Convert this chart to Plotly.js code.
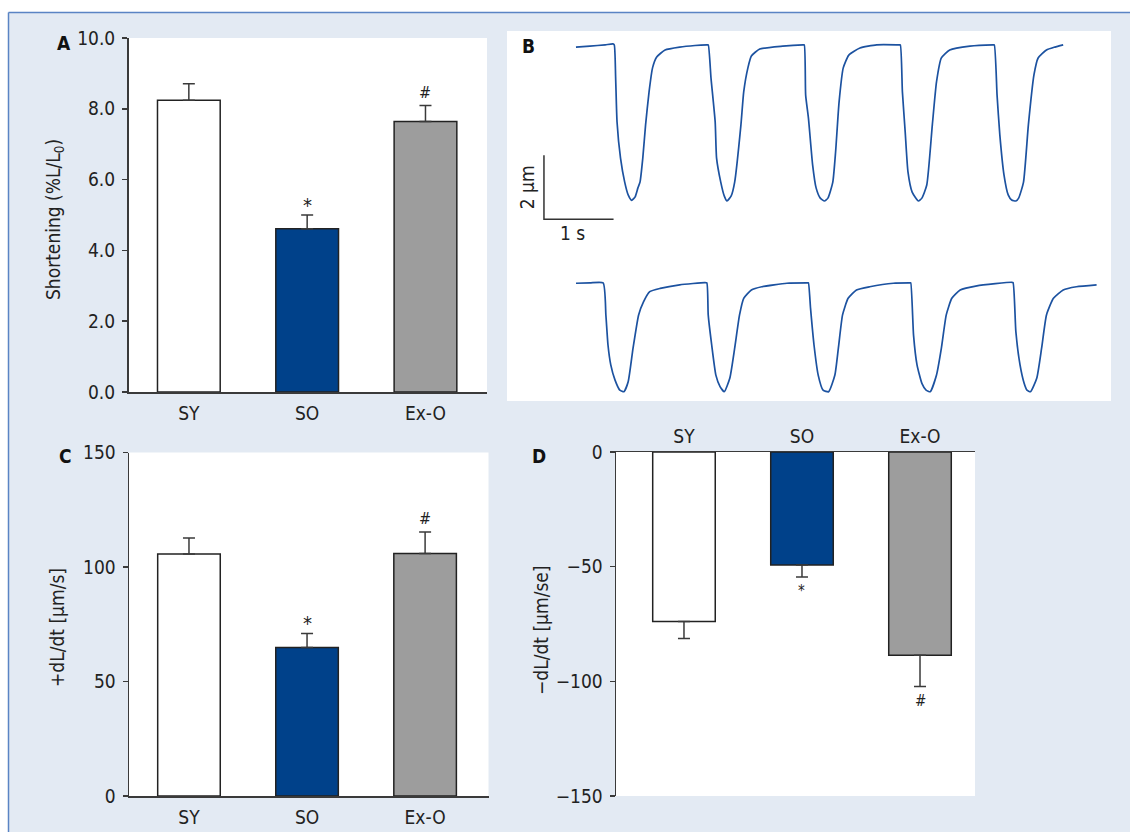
<!DOCTYPE html>
<html>
<head>
<meta charset="utf-8">
<script src="https://cdn.plot.ly/plotly-3.0.1.min.js"></script>
<style>html,body{margin:0;padding:0;background:#fff;}#chart{width:1130px;height:832px;}</style>
</head>
<body>
<div id="chart"></div>
<script>
// ---------------- data ----------------
const categories = ['SY', 'SO', 'Ex-O'];
const shortening = [8.24, 4.61, 7.64];          // %L/L0
const shorteningErr = [0.47, 0.39, 0.45];
const shorteningSig = ['', '*', '#'];
const plusDLdt = [105.7, 64.8, 105.9];          // µm/s
const plusDLdtErr = [7.0, 6.2, 9.4];
const plusDLdtSig = ['', '*', '#'];
const minusDLdt = [-73.9, -49.3, -88.6];        // µm/s
const minusDLdtErr = [7.4, 5.2, 13.7];
const minusDLdtSig = ['', '*', '#'];

// Panel B: sarcomere length traces (time in s, length in µm)
const topTraceT = [0.00,0.20,0.42,0.53,0.55,0.57,0.59,0.64,0.70,0.75,0.80,0.85,0.89,0.92,0.96,1.00,1.05,1.10,1.16,1.28,1.49,1.71,1.88,
  1.90,1.94,2.00,2.02,2.08,2.13,2.17,2.23,2.28,2.37,2.41,2.47,2.52,2.64,2.97,3.26,
  3.28,3.30,3.34,3.40,3.45,3.51,3.57,3.62,3.69,3.73,3.78,3.84,3.92,4.08,4.32,4.64,
  4.66,4.69,4.73,4.77,4.83,4.92,4.97,5.04,5.12,5.18,5.25,5.37,5.66,5.99,
  6.01,6.05,6.09,6.15,6.21,6.26,6.32,6.36,6.43,6.50,6.58,6.64,6.76,6.88,7.00];
const topTraceL = [11.06,11.09,11.13,11.16,11.13,10.09,8.72,7.59,6.84,6.44,6.27,6.38,6.66,6.84,7.59,8.63,9.66,10.41,10.75,10.97,11.06,11.11,11.13,
  11.13,10.09,8.72,7.59,6.84,6.41,6.25,6.41,6.84,8.63,9.66,10.41,10.78,11.00,11.09,11.13,
  11.13,9.56,8.84,7.38,6.66,6.34,6.25,6.34,6.84,7.78,9.34,10.41,10.81,11.03,11.13,11.13,
  11.13,9.66,8.41,7.16,6.53,6.25,6.34,6.75,8.63,9.97,10.72,10.97,11.09,11.13,
  11.13,9.56,8.31,7.06,6.44,6.28,6.25,6.34,6.84,8.63,10.19,10.72,10.97,11.06,11.13];
const bottomTraceT = [0.00,0.20,0.39,0.43,0.46,0.50,0.56,0.63,0.69,0.75,0.82,0.90,0.97,1.06,1.21,1.49,1.85,
  1.88,1.90,1.95,2.01,2.07,2.13,2.21,2.28,2.35,2.41,2.52,2.67,3.03,3.33,
  3.34,3.37,3.42,3.48,3.55,3.63,3.72,3.77,3.83,3.91,4.03,4.22,4.56,4.80,
  4.81,4.85,4.90,4.97,5.03,5.09,5.18,5.25,5.32,5.40,5.52,5.76,6.26,
  6.28,6.32,6.38,6.44,6.48,6.53,6.62,6.69,6.76,6.86,7.00,7.19,7.48];
const bottomTraceL = [3.68,3.69,3.69,2.68,1.75,1.13,0.66,0.34,0.29,0.60,1.65,2.69,3.10,3.42,3.52,3.63,3.70,
  3.69,2.69,1.75,0.81,0.45,0.29,0.71,1.65,2.69,3.21,3.47,3.57,3.68,3.69,
  3.69,2.90,1.75,0.81,0.34,0.29,0.81,1.65,2.69,3.21,3.47,3.57,3.68,3.69,
  3.69,2.06,1.13,0.55,0.34,0.29,0.81,1.65,2.69,3.21,3.47,3.60,3.71,
  3.70,2.17,1.13,0.55,0.34,0.29,0.71,1.65,2.69,3.21,3.47,3.57,3.63];
const scaleBarT = [-0.46, -0.46, 0.54];   // 1 s horizontal bar
const scaleBarL = [7.68, 5.68, 5.68];     // 2 µm vertical bar
const scaleLabels = ['2 µm', '1 s'];

// ---------------- styles ----------------
const barColors = ['#ffffff', '#00418a', '#9d9d9d'];
const FONT = "'Liberation Sans Narrow', 'DejaVu Sans Condensed', 'Arial Narrow', sans-serif";
const INK = '#222222';
const AX = '#3a3a3a';
const TRACE = '#1c52a0';
const W = 1130, H = 832;
const px = v => v / W;
const py = v => 1 - v / H;

function barTrace(vals, errs, xa, ya, down) {
  return {
    type: 'bar', x: categories, y: vals, xaxis: xa, yaxis: ya,
    width: 0.53,
    marker: {color: barColors, line: {color: INK, width: 1.5}},
    error_y: {
      type: 'data', symmetric: false,
      array: down ? errs.map(() => 0) : errs,
      arrayminus: down ? errs : errs.map(() => 0),
      color: AX, thickness: 1.5, width: 6
    },
    hoverinfo: 'skip', showlegend: false
  };
}

const traceLine = {color: TRACE, width: 1.7, shape: 'spline', smoothing: 0.5};
const traces = [
  barTrace(shortening, shorteningErr, 'x', 'y', false),
  barTrace(plusDLdt, plusDLdtErr, 'x3', 'y3', false),
  barTrace(minusDLdt, minusDLdtErr, 'x4', 'y4', true),
  {type: 'scatter', mode: 'lines', x: topTraceT, y: topTraceL, xaxis: 'x2', yaxis: 'y2',
   line: traceLine, hoverinfo: 'skip', showlegend: false},
  {type: 'scatter', mode: 'lines', x: bottomTraceT, y: bottomTraceL, xaxis: 'x2', yaxis: 'y2',
   line: traceLine, hoverinfo: 'skip', showlegend: false},
  {type: 'scatter', mode: 'lines', x: scaleBarT, y: scaleBarL, xaxis: 'x2', yaxis: 'y2',
   line: {color: '#333333', width: 1.5}, hoverinfo: 'skip', showlegend: false}
];

const yCommon = {
  showline: true, linecolor: AX, linewidth: 1.5,
  ticks: 'outside', ticklen: 5, tickwidth: 1.5, tickcolor: AX,
  showgrid: false, zeroline: false, fixedrange: true,
  tickfont: {family: FONT, size: 19, color: INK}, ticklabelstandoff: 3
};
const xCommon = {
  type: 'category', showline: true, linecolor: AX, linewidth: 1.5,
  ticks: '', showgrid: false, zeroline: false, fixedrange: true,
  tickfont: {family: FONT, size: 19, color: INK}
};

const annotations = [];
function sigAnn(sig, vals, errs, xa, ya, down) {
  sig.forEach((s, i) => {
    if (!s) return;
    const star = s === '*';
    annotations.push({
      x: categories[i], y: down ? vals[i] - errs[i] : vals[i] + errs[i],
      xref: xa, yref: ya, text: s, showarrow: false,
      yanchor: down ? 'top' : 'bottom',
      yshift: down ? -3 : (star ? -4 : 2),
      font: {family: FONT, size: down ? 15 : (star ? 20 : 16), color: INK}
    });
  });
}
sigAnn(shorteningSig, shortening, shorteningErr, 'x', 'y', false);
sigAnn(plusDLdtSig, plusDLdt, plusDLdtErr, 'x3', 'y3', false);
sigAnn(minusDLdtSig, minusDLdt, minusDLdtErr, 'x4', 'y4', true);

const panelFont = {family: FONT, size: 19, color: '#111', weight: 'bold'};
[['A', 64, 43], ['B', 528, 46], ['C', 65, 456], ['D', 539, 456]].forEach(p => {
  annotations.push({x: px(p[1]), y: py(p[2]), xref: 'paper', yref: 'paper', text: '<b>' + p[0] + '</b>',
    showarrow: false, xanchor: 'center', yanchor: 'middle', font: panelFont});
});
const titleFont = {family: FONT, size: 19, color: INK};
[['Shortening (%L/L<sub>0</sub>)', 55, 220], ['+dL/dt [µm/s]', 57, 628], ['\u2212dL/dt [µm/se]', 541, 630]].forEach(t => {
  annotations.push({x: px(t[1]), y: py(t[2]), xref: 'paper', yref: 'paper', text: t[0], textangle: -90,
    showarrow: false, xanchor: 'center', yanchor: 'middle', font: titleFont});
});
// scale bar labels
annotations.push({x: scaleBarT[0], y: (scaleBarL[0] + scaleBarL[1]) / 2, xref: 'x2', yref: 'y2',
  text: scaleLabels[0], textangle: -90, showarrow: false, xanchor: 'center', yanchor: 'middle', xshift: -17,
  font: titleFont});
annotations.push({x: (scaleBarT[1] + scaleBarT[2]) / 2, y: scaleBarL[2], xref: 'x2', yref: 'y2',
  text: scaleLabels[1], showarrow: false, xanchor: 'center', yanchor: 'top', xshift: -6, yshift: -1,
  font: titleFont});

const plotRects = [[128.5, 38, 487, 392], [507, 31, 1111, 401], [129, 452.5, 488.5, 796], [616, 452, 975, 796]];
const shapes = [
  {type: 'rect', xref: 'paper', yref: 'paper', x0: px(8), x1: 1, y0: 0, y1: py(12.5),
   fillcolor: '#e3eaf3', line: {width: 0}, layer: 'below'},
  {type: 'line', xref: 'paper', yref: 'paper', x0: px(8.5), x1: px(8.5), y0: 0, y1: py(12.5),
   line: {color: '#5a84c4', width: 1.5}, layer: 'below'},
  {type: 'line', xref: 'paper', yref: 'paper', x0: px(8.5), x1: 1, y0: py(12.5), y1: py(12.5),
   line: {color: '#5a84c4', width: 1.5}, layer: 'below'}
];
plotRects.forEach(r => shapes.push({type: 'rect', xref: 'paper', yref: 'paper',
  x0: px(r[0]), x1: px(r[2]), y0: py(r[3]), y1: py(r[1]), fillcolor: '#ffffff', line: {width: 0}, layer: 'below'}));

const layout = {
  width: W, height: H,
  margin: {l: 0, r: 0, t: 0, b: 0, pad: 0},
  paper_bgcolor: '#ffffff', plot_bgcolor: 'rgba(0,0,0,0)',
  showlegend: false, bargap: 0,
  font: {family: FONT, color: INK},
  xaxis: Object.assign({}, xCommon, {domain: [px(128.5), px(487)], range: [-0.51, 2.52], anchor: 'y', ticklabelstandoff: 4}),
  yaxis: Object.assign({}, yCommon, {domain: [py(392), py(38)], range: [0, 10], tickvals: [0, 2, 4, 6, 8, 10],
    tickformat: '.1f', anchor: 'x'}),
  xaxis2: {domain: [px(507), px(1111)], range: [-0.991, 7.687], visible: false, anchor: 'y2', fixedrange: true},
  yaxis2: {domain: [py(401), py(31)], range: [0, 11.5625], visible: false, anchor: 'x2', fixedrange: true},
  xaxis3: Object.assign({}, xCommon, {domain: [px(129), px(488.5)], range: [-0.508, 2.537], anchor: 'y3', ticklabelstandoff: 4}),
  yaxis3: Object.assign({}, yCommon, {domain: [py(796), py(452.5)], range: [0, 150], tickvals: [0, 50, 100, 150], anchor: 'x3'}),
  xaxis4: Object.assign({}, xCommon, {domain: [px(616), px(975)], range: [-0.576, 2.466], anchor: 'y4', side: 'top'}),
  yaxis4: Object.assign({}, yCommon, {domain: [py(796), py(452)], range: [-150, 0], tickvals: [0, -50, -100, -150], anchor: 'x4'}),
  annotations: annotations,
  shapes: shapes
};

Plotly.newPlot('chart', traces, layout, {staticPlot: true, displayModeBar: false});
</script>
</body>
</html>
